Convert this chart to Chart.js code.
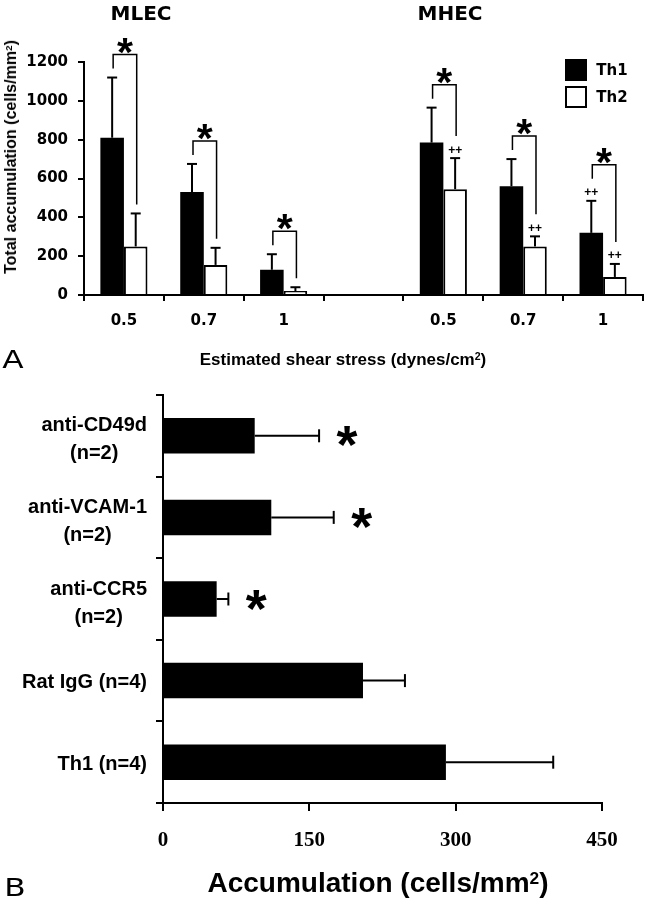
<!DOCTYPE html>
<html lang="en">
<head>
<meta charset="UTF-8">
<title>Th1 / Th2 accumulation</title>
<script src="https://cdn.jsdelivr.net/npm/chart.js"></script>
<style>
    * { margin: 0; padding: 0; box-sizing: border-box; }
    body {
        width: 647px; height: 899px; background: #fff; color: #000;
        position: relative; overflow: hidden;
        font-family: 'Liberation Sans', Arial, sans-serif;
    }
    .txt {
        position: absolute; white-space: nowrap; line-height: 1;
        transform: translate(-50%, -50%);
    }
    .bold { font-weight: bold; }
    .dv { font-family: 'DejaVu Sans', sans-serif; }
    .sup { position: relative; top: -0.45em; font-size: 0.62em; }
    #topBox { position: absolute; left: 0; top: 0; width: 647px; height: 372px; }
    #botBox { position: absolute; left: 0; top: 372px; width: 647px; height: 527px; }
    .key { position: absolute; left: 565px; width: 22px; height: 22px; border: 2px solid #000; }
</style>
</head>
<body>
    <div id="topBox"><canvas id="shearChart" width="647" height="372"></canvas></div>
    <div id="botBox"><canvas id="blockChart" width="647" height="527"></canvas></div>

    <div class="txt bold dv" style="left:141px; top:13px; font-size:20px;">MLEC</div>
    <div class="txt bold dv" style="left:450px; top:13px; font-size:20px;">MHEC</div>
    <div class="txt bold" style="left:11px; top:157px; font-size:16px; transform: translate(-50%, -50%) rotate(-90deg);">Total accumulation (cells/mm<span class="sup">2</span>)</div>
    <div class="txt bold" style="left:343px; top:359px; font-size:17px;">Estimated shear stress (dynes/cm<span class="sup">2</span>)</div>
    <div class="txt dv" style="left:13px; top:359px; font-size:25px; transform: translate(-50%, -50%) scaleX(1.25);">A</div>

    <div class="key" style="top:59px; background:#000;"></div>
    <div class="key" style="top:86px; background:#fff;"></div>
    <div class="txt bold dv" style="left:612px; top:70px; font-size:15px;">Th1</div>
    <div class="txt bold dv" style="left:612px; top:97px; font-size:15px;">Th2</div>

    <div class="txt dv" style="left:15px; top:887px; font-size:25px; transform: translate(-50%, -50%) scaleX(1.25);">B</div>
    <div class="txt bold" style="left:378px; top:883px; font-size:28px;">Accumulation (cells/mm<span class="sup">2</span>)</div>

<script>
    // Panel A: accumulation under flow (MLEC groups, gap, MHEC groups)
    const shearLabels = ['0.5', '0.7', '1', '', '0.5', '0.7', '1'];
    const th1Mean = [810, 530, 130, null, 785, 560, 320];
    const th1Err  = [310, 145, 80, null, 180, 140, 165];
    const th2Mean = [250, 155, 20, null, 545, 250, 93];
    const th2Err  = [170, 88, 20, null, 160, 52, 67];
    const starA   = [true, true, true, false, true, true, true];
    const th1Plus = [false, false, false, false, false, false, true];
    const th2Plus = [false, false, false, false, true, true, true];
    const yTicksA = [0, 200, 400, 600, 800, 1000, 1200];

    // Panel B: blocking antibodies
    const treatLabels = [['anti-CD49d', '(n=2)'], ['anti-VCAM-1', '(n=2)'], ['anti-CCR5', '(n=2)'], ['Rat IgG (n=4)'], ['Th1 (n=4)']];
    const accMean = [94, 111, 55, 205, 290];
    const accErr  = [66, 64, 12, 43, 110];
    const starB   = [true, true, true, false, false];
    const xTicksB = [0, 150, 300, 450];

    // draw a glyph centred on its ink box
    function glyph(ctx, text, cx, cy, font) {
        ctx.font = font;
        const m = ctx.measureText(text);
        ctx.textAlign = 'left';
        ctx.textBaseline = 'alphabetic';
        const x = cx - (m.actualBoundingBoxRight - m.actualBoundingBoxLeft) / 2;
        const y = cy + (m.actualBoundingBoxAscent - m.actualBoundingBoxDescent) / 2;
        ctx.fillText(text, x, y);
    }

    function star(ctx, cx, cy, inkW) {
        ctx.font = 'bold 100px "Liberation Sans"';
        const m = ctx.measureText('*');
        const size = 100 * inkW / (m.actualBoundingBoxRight + m.actualBoundingBoxLeft);
        glyph(ctx, '*', cx, cy, 'bold ' + size.toFixed(1) + 'px "Liberation Sans"');
    }

    function seg(ctx, x1, y1, x2, y2) {
        ctx.beginPath();
        ctx.moveTo(x1, y1);
        ctx.lineTo(x2, y2);
        ctx.stroke();
    }

    const shearMarks = {
        id: 'shearMarks',
        afterDatasetsDraw(chart) {
            const ctx = chart.ctx, ys = chart.scales.y;
            const m1 = chart.getDatasetMeta(0).data, m2 = chart.getDatasetMeta(1).data;
            ctx.save();
            ctx.strokeStyle = '#000';
            ctx.fillStyle = '#000';
            shearLabels.forEach((lab, i) => {
                if (th1Mean[i] == null) return;
                const x1 = m1[i].x, x2 = m2[i].x;
                const top1 = ys.getPixelForValue(th1Mean[i] + th1Err[i]);
                const top2 = ys.getPixelForValue(th2Mean[i] + th2Err[i]);
                // error bars
                ctx.lineWidth = 2;
                seg(ctx, x1, m1[i].y, x1, top1); seg(ctx, x1 - 5, top1, x1 + 5, top1);
                seg(ctx, x2, m2[i].y, x2, top2); seg(ctx, x2 - 5, top2, x2 + 5, top2);
                // ++ markers
                if (th1Plus[i]) glyph(ctx, '++', x1, top1 - 9, 'bold 12px "Liberation Sans"');
                if (th2Plus[i]) glyph(ctx, '++', x2, top2 - 9, 'bold 12px "Liberation Sans"');
                // significance bracket
                if (starA[i]) {
                    const l = top1 - (th1Plus[i] ? 22 : 9);
                    const r = top2 - (th2Plus[i] ? 22 : 9);
                    const t = Math.min(l, r) - 14;
                    ctx.lineWidth = 1.5;
                    ctx.beginPath();
                    ctx.moveTo(x1 + 1, l); ctx.lineTo(x1 + 1, t);
                    ctx.lineTo(x2 + 1, t); ctx.lineTo(x2 + 1, r);
                    ctx.stroke();
                    star(ctx, (x1 + x2) / 2 + 1, t - 9, 16);
                }
            });
            ctx.restore();
        }
    };

    const blockMarks = {
        id: 'blockMarks',
        afterDatasetsDraw(chart) {
            const ctx = chart.ctx, xs = chart.scales.x, ys = chart.scales.y;
            const bars = chart.getDatasetMeta(0).data;
            ctx.save();
            ctx.strokeStyle = '#000';
            ctx.fillStyle = '#000';
            ctx.lineWidth = 2;
            accMean.forEach((v, i) => {
                const b = bars[i];
                const xe = xs.getPixelForValue(v + accErr[i]);
                seg(ctx, b.x, b.y, xe, b.y);
                seg(ctx, xe, b.y - 6.5, xe, b.y + 6.5);
                if (starB[i]) star(ctx, xe + 28, b.y + 1, 21);
            });
            // category labels: each block right-aligned, its lines centred
            ctx.font = 'bold 20px "Liberation Sans"';
            ctx.textAlign = 'center';
            ctx.textBaseline = 'middle';
            treatLabels.forEach((lines, i) => {
                const c = ys.getPixelForValue(i);
                const w = Math.max(...lines.map(s => ctx.measureText(s).width));
                const cx = 147 - w / 2;
                if (lines.length === 1) {
                    ctx.fillText(lines[0], cx, c + 2);
                } else {
                    ctx.fillText(lines[0], cx, c - 10);
                    ctx.fillText(lines[1], cx, c + 18);
                }
            });
            ctx.restore();
        }
    };

    const tickFont = { family: 'DejaVu Sans', weight: 'bold', size: 15 };

    function initShear() {
        new Chart(document.getElementById('shearChart'), {
            type: 'bar',
            data: {
                labels: shearLabels,
                datasets: [{
                    label: 'Th1',
                    data: th1Mean,
                    backgroundColor: '#000',
                    borderColor: '#000',
                    borderWidth: 0
                }, {
                    label: 'Th2',
                    data: th2Mean,
                    backgroundColor: '#fff',
                    borderColor: '#000',
                    borderWidth: 2
                }]
            },
            options: {
                responsive: false,
                animation: false,
                categoryPercentage: 0.59,
                barPercentage: 1,
                layout: { padding: { left: 0, top: 62, right: 4, bottom: 0 } },
                plugins: { legend: { display: false }, tooltip: { enabled: false } },
                scales: {
                    x: {
                        afterFit(s) { s.height = 77; },
                        grid: { offset: true, drawOnChartArea: false, color: '#000', lineWidth: 2, tickLength: 6 },
                        border: { color: '#000', width: 2 },
                        ticks: { color: '#000', font: tickFont, padding: 11, maxRotation: 0 }
                    },
                    y: {
                        min: yTicksA[0],
                        max: yTicksA[yTicksA.length - 1],
                        afterFit(s) { s.width = 84; },
                        afterBuildTicks(s) { s.ticks = yTicksA.map(v => ({ value: v })); },
                        grid: { drawOnChartArea: false, color: '#000', lineWidth: 2, tickLength: 6 },
                        border: { color: '#000', width: 2 },
                        ticks: { color: '#000', font: tickFont, padding: 10, callback: v => String(v) }
                    }
                }
            },
            plugins: [shearMarks]
        });
    }

    function initBlock() {
        new Chart(document.getElementById('blockChart'), {
            type: 'bar',
            data: {
                labels: treatLabels,
                datasets: [{
                    label: 'Accumulation',
                    data: accMean,
                    backgroundColor: '#000',
                    borderWidth: 0
                }]
            },
            options: {
                indexAxis: 'y',
                responsive: false,
                animation: false,
                categoryPercentage: 0.435,
                barPercentage: 1,
                layout: { padding: { left: 0, top: 23, right: 45, bottom: 0 } },
                plugins: { legend: { display: false }, tooltip: { enabled: false } },
                scales: {
                    x: {
                        min: xTicksB[0],
                        max: xTicksB[xTicksB.length - 1],
                        afterFit(s) { s.height = 96; },
                        afterBuildTicks(s) { s.ticks = xTicksB.map(v => ({ value: v })); },
                        grid: { drawOnChartArea: false, color: '#000', lineWidth: 2, tickLength: 8 },
                        border: { color: '#000', width: 2 },
                        ticks: { color: '#000', font: { family: 'Liberation Serif', weight: 'bold', size: 21 }, padding: 17, callback: v => String(v) }
                    },
                    y: {
                        afterFit(s) { s.width = 163; },
                        grid: { offset: true, drawOnChartArea: false, color: '#000', lineWidth: 2, tickLength: 7 },
                        border: { color: '#000', width: 2 },
                        ticks: { display: false }
                    }
                }
            },
            plugins: [blockMarks]
        });
    }

    window.onload = function() {
        initShear();
        initBlock();
    };
</script>
</body>
</html>
